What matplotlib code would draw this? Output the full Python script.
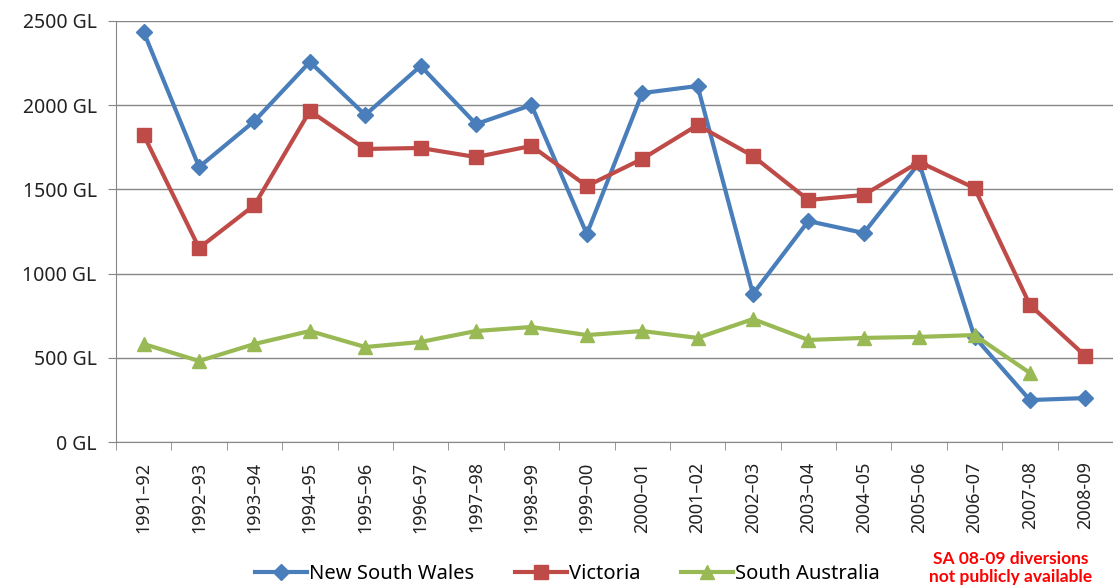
import matplotlib
matplotlib.use("Agg")
import matplotlib.pyplot as plt
import numpy as np

years = ["1991–92", "1992–93", "1993–94", "1994–95", "1995–96", "1996–97",
         "1997–98", "1998–99", "1999–00", "2000–01", "2001–02", "2002–03",
         "2003–04", "2004–05", "2005–06", "2006–07", "2007-08", "2008-09"]
nsw = [2435, 1633, 1906, 2257, 1942, 2233, 1888, 2001, 1235, 2072, 2114, 879,
       1312, 1241, 1657, 624, 249, 261]
vic = [1823, 1152, 1407, 1966, 1740, 1746, 1692, 1758, 1520, 1681, 1882, 1698,
       1437, 1467, 1663, 1508, 814, 511]
sa = [582, 481, 582, 659, 564, 594, 659, 683, 635, 659, 618, 730,
      606, 618, 624, 635, 410, np.nan]
yticks = [0, 500, 1000, 1500, 2000, 2500]

plt.rcParams['font.family'] = ['Noto Sans', 'DejaVu Sans']

fig = plt.figure(figsize=(11.13, 5.87), dpi=100)
ax = fig.add_axes([116/1113, 1-442/587, 1-116/1113, (442-21)/587])

x = np.arange(len(years))
ax.plot(x, nsw, color="#4A7EBB", lw=3, marker="D", ms=8, label="New South Wales", zorder=3)
ax.plot(x, vic, color="#BE4B48", lw=3, marker="s", ms=10, label="Victoria", zorder=3)
ax.plot(x, sa, color="#98B954", lw=3, marker="^", ms=10, label="South Australia", zorder=3)

ax.set_xlim(-0.5, len(years) - 0.5)
ax.set_ylim(0, 2500)
ax.set_yticks(yticks)
ax.set_yticklabels([f"{v} GL" for v in yticks], fontsize=14, color="#222222")
ax.set_xticks(x)
ax.set_xticklabels(years, rotation=90, fontsize=13, color="#222222")
ax.set_xticks(np.arange(-0.5, len(years)), minor=True)
ax.tick_params(axis='x', which='major', length=0, pad=14)
ax.tick_params(axis='x', which='minor', length=6, color="#868686")
ax.tick_params(axis='y', length=6, color="#868686", pad=8)
ax.grid(axis='y', color="#868686", lw=1)
ax.set_axisbelow(True)
for s in ["top", "right"]:
    ax.spines[s].set_visible(False)
for s in ["left", "bottom"]:
    ax.spines[s].set_color("#868686")

leg = fig.legend(loc="lower center", bbox_to_anchor=(0.51, -0.025), ncol=3, frameon=False,
                 fontsize=14.5, handlelength=2.6, columnspacing=2.0, handletextpad=0.1)
fig.text(0.908, 0.003, "SA 08-09 diversions\nnot publicly available", color="#FF0000",
         fontsize=12.5, fontweight="bold", family="Lato", ha="center", va="bottom",
         linespacing=1.15)

fig.savefig("out.png", dpi=100)
